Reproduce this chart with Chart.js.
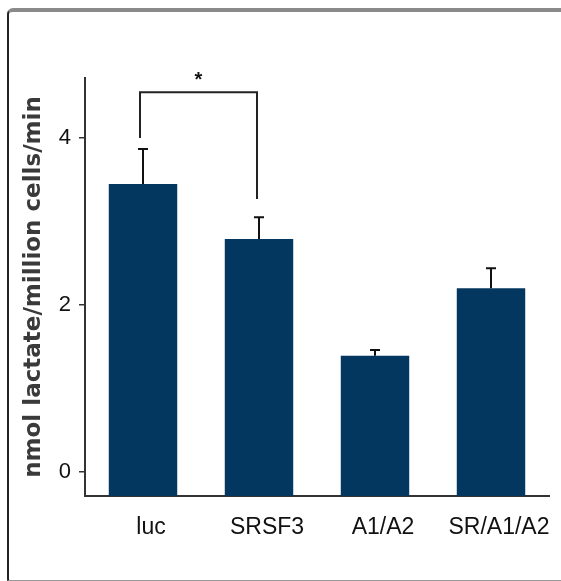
<!DOCTYPE html>
<html>
<head>
<meta charset="utf-8">
<script src="https://cdn.jsdelivr.net/npm/chart.js@4"></script>
<style>
  html, body { margin: 0; padding: 0; background: #fff; }
  #wrap { position: relative; width: 561px; height: 581px; overflow: hidden; }
  #frame {
    position: absolute; left: 7px; top: 8px; width: 600px; height: 568px;
    border-top: 4px solid #8a8a8a; border-left: 2px solid #222; border-bottom: 2px solid #9a9a9a;
    border-top-left-radius: 6px; border-bottom-left-radius: 3px;
  }
  canvas { position: absolute; left: 0; top: 0; }
</style>
</head>
<body>
<div id="wrap">
  <div id="frame"></div>
  <canvas id="lactateChart" width="561" height="581"></canvas>
</div>
<script>
const categories = ['luc', 'SRSF3', 'A1/A2', 'SR/A1/A2'];
const lactateRate = [3.45, 2.79, 1.39, 2.20];
const errorTop = [3.87, 3.05, 1.46, 2.44];
const yTicks = [0, 2, 4];

// significance bracket between luc and SRSF3 (value units)
const bracket = { from: 0, to: 1, top: 4.55, leftEnd: 4.0, rightEnd: 3.27, label: '*' };

const yMin = -0.29;
const yMax = 4.72;

const errorBars = {
  id: 'errorBars',
  afterDatasetsDraw(chart) {
    const ctx = chart.ctx;
    const x = chart.scales.x;
    const y = chart.scales.y;
    ctx.save();
    ctx.strokeStyle = '#111';
    ctx.lineWidth = 2;
    lactateRate.forEach((v, i) => {
      const cx = x.getPixelForValue(i);
      const y0 = y.getPixelForValue(v);
      const y1 = y.getPixelForValue(errorTop[i]);
      ctx.beginPath();
      ctx.moveTo(cx, y0);
      ctx.lineTo(cx, y1);
      ctx.moveTo(cx - 5, y1);
      ctx.lineTo(cx + 5, y1);
      ctx.stroke();
    });

    // bracket
    const xa = x.getPixelForValue(bracket.from) - 3;
    const xb = x.getPixelForValue(bracket.to) - 2;
    const yt = y.getPixelForValue(bracket.top);
    ctx.strokeStyle = '#222';
    ctx.beginPath();
    ctx.moveTo(xa, y.getPixelForValue(bracket.leftEnd));
    ctx.lineTo(xa, yt);
    ctx.lineTo(xb, yt);
    ctx.lineTo(xb, y.getPixelForValue(bracket.rightEnd));
    ctx.stroke();
    ctx.fillStyle = '#111';
    ctx.font = 'bold 20px "Liberation Sans"';
    ctx.textAlign = 'center';
    ctx.textBaseline = 'middle';
    ctx.fillText(bracket.label, (xa + xb) / 2, yt - 12);
    ctx.restore();
  }
};

new Chart(document.getElementById('lactateChart'), {
  type: 'bar',
  data: {
    labels: categories,
    datasets: [{
      data: lactateRate,
      base: yMin,
      backgroundColor: '#04375f',
      barPercentage: 0.59,
      categoryPercentage: 1.0
    }]
  },
  options: {
    responsive: false,
    animation: false,
    layout: { padding: { left: 0, right: 12, top: 78, bottom: 0 } },
    plugins: { legend: { display: false }, tooltip: { enabled: false } },
    scales: {
      x: {
        grid: { display: false, drawTicks: false },
        border: { display: true, color: '#333', width: 2 },
        ticks: {
          color: '#111',
          padding: 18,
          labelOffset: 8,
          maxRotation: 0,
          minRotation: 0,
          autoSkip: false,
          font: { family: '"Liberation Sans"', size: 23 }
        },
        afterFit(scale) { scale.height = 85; }
      },
      y: {
        min: yMin,
        max: yMax,
        afterBuildTicks(scale) { scale.ticks = yTicks.map(v => ({ value: v })); },
        grid: { drawOnChartArea: false, drawTicks: true, tickLength: 6, color: '#333', lineWidth: 1.5 },
        border: { display: true, color: '#333', width: 2 },
        ticks: {
          color: '#111',
          padding: 8,
          font: { family: '"Liberation Sans"', size: 22 }
        },
        title: {
          display: true,
          text: 'nmol lactate/million cells/min',
          color: '#3a3a3a',
          padding: { top: 20, bottom: 0 },
          font: { family: '"DejaVu Sans"', size: 23, weight: 'bold' }
        },
        afterFit(scale) { scale.width = 85; }
      }
    }
  },
  plugins: [errorBars]
});
</script>
</body>
</html>
